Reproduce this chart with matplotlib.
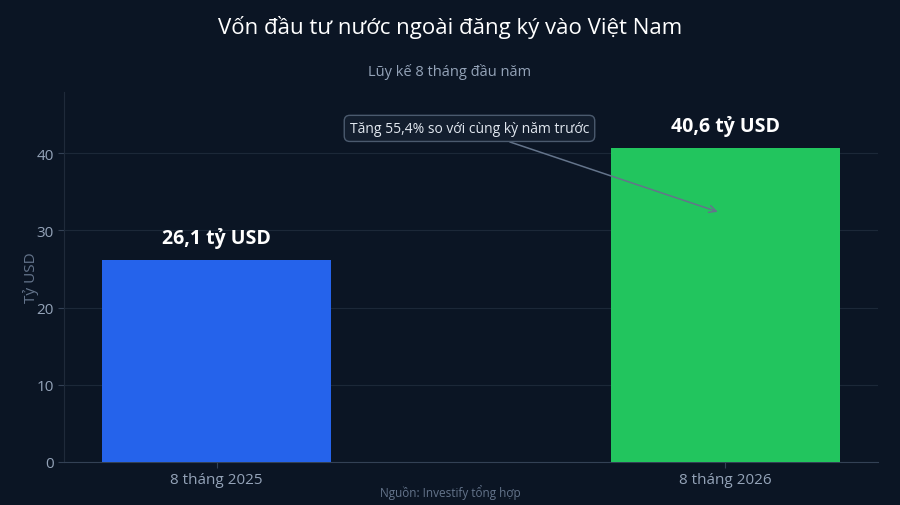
import matplotlib.pyplot as plt

plt.rcParams['font.family'] = ['Open Sans', 'Noto Sans', 'DejaVu Sans']

# data
categories = ['8 tháng 2025', '8 tháng 2026']
values = [26.1, 40.6]
bar_labels = ['26,1 tỷ USD', '40,6 tỷ USD']
colors = ['#2563eb', '#22c55e']
growth_note = 'Tăng 55,4% so với cùng kỳ năm trước'

bg = '#0b1524'
grid_col = '#1c2838'
text_grey = '#94a3b8'

fig = plt.figure(figsize=(9, 5.06), dpi=100, facecolor=bg)
ax = fig.add_axes([0.0711, 0.085, 0.9045, 0.731], facecolor=bg)

x = list(range(len(categories)))
ax.bar(x, values, width=0.45, color=colors, zorder=3)

for xi, v, lab in zip(x, values, bar_labels):
    ax.text(xi, v + 1.6, lab, ha='center', va='bottom', color='white',
            fontsize=14, fontweight='bold', zorder=4)

ax.set_xlim(-0.3, 1.3)
ax.set_ylim(0, 47.9)
ax.set_xticks(x)
ax.set_xticklabels(categories)
ax.set_yticks([0, 10, 20, 30, 40])
ax.tick_params(axis='x', colors='#334155', labelcolor=text_grey, labelsize=11, length=4)
ax.tick_params(axis='y', colors='#334155', labelcolor=text_grey, labelsize=11, length=4)
ax.set_ylabel('Tỷ USD', color='#64748b', fontsize=11, labelpad=-2)

ax.yaxis.grid(True, color=grid_col, linewidth=0.8, zorder=0)
for s in ['top', 'right']:
    ax.spines[s].set_visible(False)
ax.spines['left'].set_color('#1f2a3a')
ax.spines['bottom'].set_color('#334155')

# growth annotation
ax.annotate(growth_note, xy=(0.985, 32.4), xytext=(0.497, 43.2),
            ha='center', va='center', color='#e2e8f0', fontsize=10,
            bbox=dict(boxstyle='round,pad=0.4', fc='#131e2e', ec='#4b5a6e', lw=1),
            arrowprops=dict(arrowstyle='->,head_length=0.5,head_width=0.25',
                            color='#64748b', lw=1.1, shrinkA=0, shrinkB=0),
            zorder=5)

fig.text(0.5, 0.945, 'Vốn đầu tư nước ngoài đăng ký vào Việt Nam',
         ha='center', va='center', color='white', fontsize=16)
fig.text(0.5, 0.857, 'Lũy kế 8 tháng đầu năm', ha='center', va='center',
         color=text_grey, fontsize=10.5)
fig.text(0.5, 0.027, 'Nguồn: Investify tổng hợp', ha='center', va='center',
         color='#64748b', fontsize=8.5)

plt.savefig('out.png', dpi=100, facecolor=bg)
